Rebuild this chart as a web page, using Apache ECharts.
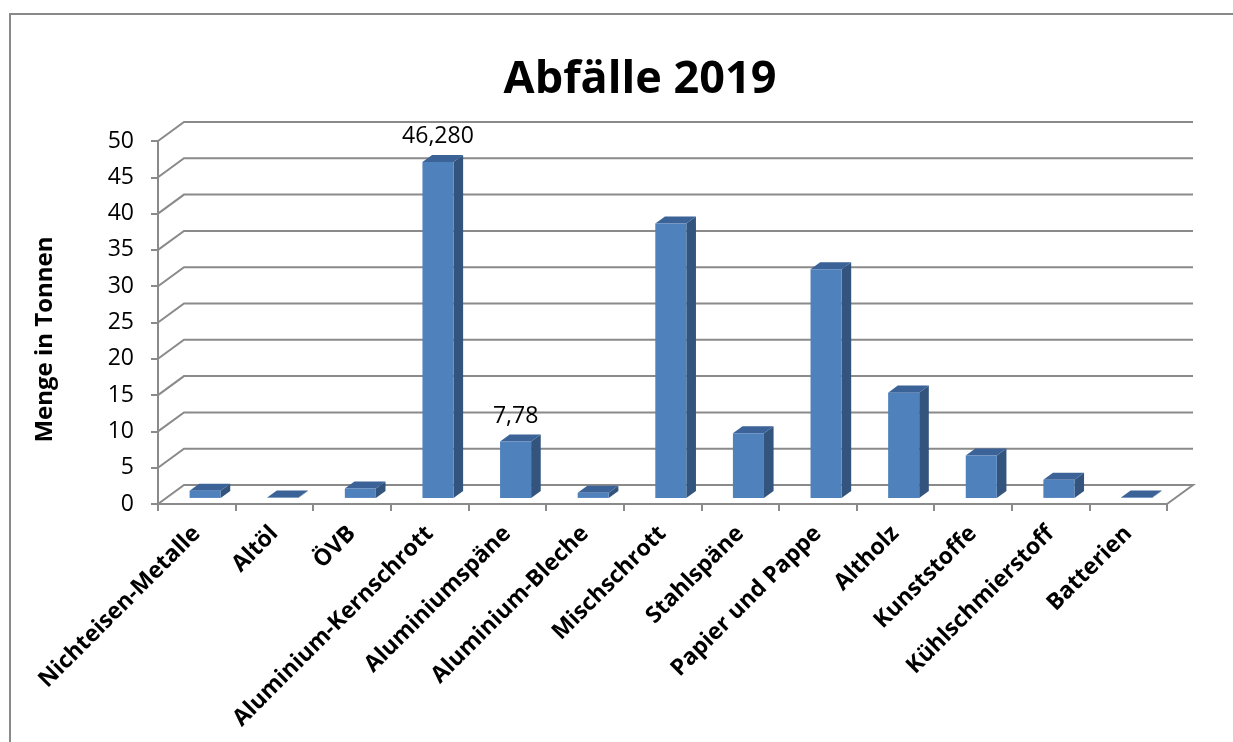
<!DOCTYPE html>
<html>
<head>
<meta charset="utf-8">
<title>Abfälle 2019</title>
<script src="https://cdn.jsdelivr.net/npm/echarts@6/dist/echarts.min.js"></script>
<style>
  html, body { margin: 0; padding: 0; background: #ffffff; }
  #chart { width: 1233px; height: 742px; }
</style>
</head>
<body>
<div id="chart"></div>
<script>
// Waste amounts per material, in tonnes
const categories = [
  'Nichteisen-Metalle', 'Altöl', 'ÖVB', 'Aluminium-Kernschrott', 'Aluminiumspäne',
  'Aluminium-Bleche', 'Mischschrott', 'Stahlspäne', 'Papier und Pappe', 'Altholz',
  'Kunststoffe', 'Kühlschmierstoff', 'Batterien'
];
const amounts = [1.0, 0.05, 1.3, 46.28, 7.78, 0.7, 37.8, 8.9, 31.5, 14.5, 5.85, 2.5, 0.05];
// decimals shown in the value label (null = no label)
const labelDecimals = [null, null, null, 3, 2, null, null, null, null, null, null, null, null];
const yTicks = [0, 5, 10, 15, 20, 25, 30, 35, 40, 45, 50];

// pseudo-3D projection of the plot box
const DEPTH_X = 26, DEPTH_Y = 19;
const BAR_FRONT = 0.32, BAR_BACK = 0.69, BAR_WIDTH = 0.4;
const GRID_COLOR = '#8a8a8a';
const FONT = '"Open Sans", "Noto Sans", sans-serif';

function formatValue(v, d) {
  return v.toFixed(d).replace('.', ',');
}

const chart = echarts.init(document.getElementById('chart'));

function renderWalls(params, api) {
  const v = api.value(1);
  const cs = params.coordSys;
  const y = api.coord([0, v])[1];
  const left = cs.x, right = cs.x + cs.width;
  const pts = v === 0
    ? [[left, y], [left + DEPTH_X, y - DEPTH_Y], [right + DEPTH_X, y - DEPTH_Y], [right, y]]
    : [[left, y], [left + DEPTH_X, y - DEPTH_Y], [right + DEPTH_X, y - DEPTH_Y]];
  return {
    type: 'polyline',
    shape: { points: pts },
    style: { stroke: GRID_COLOR, lineWidth: 2, fill: null }
  };
}

function renderBar(params, api) {
  const i = api.value(0);
  const v = api.value(1);
  const top = api.coord([i, v]);
  const base = api.coord([i, 0]);
  const w = api.size([1, 0])[0] * BAR_WIDTH;
  const fx = DEPTH_X * BAR_FRONT, fy = DEPTH_Y * BAR_FRONT;
  const dx = DEPTH_X * (BAR_BACK - BAR_FRONT), dy = DEPTH_Y * (BAR_BACK - BAR_FRONT);
  const cx = top[0] + fx;
  const x0 = cx - w / 2, x1 = cx + w / 2;
  const yt = top[1] - fy, yb = base[1] - fy;
  const children = [
    {
      type: 'polygon',
      shape: { points: [[x1, yt], [x1 + dx, yt - dy], [x1 + dx, yb - dy], [x1, yb]] },
      style: { fill: '#32547d' }
    },
    {
      type: 'polygon',
      shape: { points: [[x0, yt], [x0 + dx, yt - dy], [x1 + dx, yt - dy], [x1, yt]] },
      style: { fill: '#3b6397' }
    },
    {
      type: 'rect',
      shape: { x: x0, y: yt, width: w, height: Math.max(yb - yt, 0) },
      style: { fill: '#4f81bd' }
    }
  ];
  const d = labelDecimals[i];
  if (d !== null && d !== undefined) {
    children.push({
      type: 'text',
      style: {
        text: formatValue(v, d),
        x: cx, y: yt - 25,
        align: 'center', verticalAlign: 'middle',
        font: '23px ' + FONT,
        fill: '#000000'
      }
    });
  }
  return { type: 'group', children: children };
}

chart.setOption({
  animation: false,
  backgroundColor: '#ffffff',
  title: {
    text: 'Abfälle 2019',
    left: 635,
    top: 53,
    textAlign: 'center',
    textStyle: { fontFamily: FONT, fontSize: 45, fontWeight: 'bold', color: '#000000' }
  },
  graphic: [
    { type: 'polyline', shape: { points: [[10, 742], [10, 14], [1233, 14]] },
      style: { stroke: '#898989', lineWidth: 2, fill: null }, silent: true }
  ],
  grid: { left: 158, right: 66, top: 141, bottom: 238, outerBoundsMode: 'none', containLabel: false },
  xAxis: {
    type: 'category',
    data: categories,
    boundaryGap: true,
    axisLine: { show: true, lineStyle: { color: GRID_COLOR, width: 2 } },
    axisTick: { show: true, interval: 0, length: 7, lineStyle: { color: GRID_COLOR, width: 2 } },
    axisLabel: {
      interval: 0, rotate: 45, margin: 26,
      padding: [24, 0, 0, 0],
      fontFamily: FONT, fontSize: 23, fontWeight: 'bold', color: '#000000'
    },
    splitLine: { show: false }
  },
  yAxis: {
    type: 'value',
    min: 0, max: 50, interval: 5,
    name: 'Menge in Tonnen',
    nameLocation: 'middle',
    nameGap: 101,
    nameTextStyle: {
      fontFamily: FONT, fontSize: 24, fontWeight: 'bold', color: '#000000',
      padding: [0, 34, 0, 0]
    },
    axisLine: { show: true, lineStyle: { color: GRID_COLOR, width: 2 } },
    axisTick: { show: true, length: 7, lineStyle: { color: GRID_COLOR, width: 2 } },
    axisLabel: {
      margin: 24, padding: [7, 0, 0, 0],
      fontFamily: FONT, fontSize: 23, color: '#000000'
    },
    splitLine: { show: false }
  },
  series: [
    {
      name: 'walls',
      type: 'custom',
      silent: true,
      z: 1,
      renderItem: renderWalls,
      data: yTicks.map(v => [0, v])
    },
    {
      name: 'Menge',
      type: 'custom',
      z: 2,
      renderItem: renderBar,
      data: amounts.map((v, i) => [i, v])
    }
  ]
});
</script>
</body>
</html>
